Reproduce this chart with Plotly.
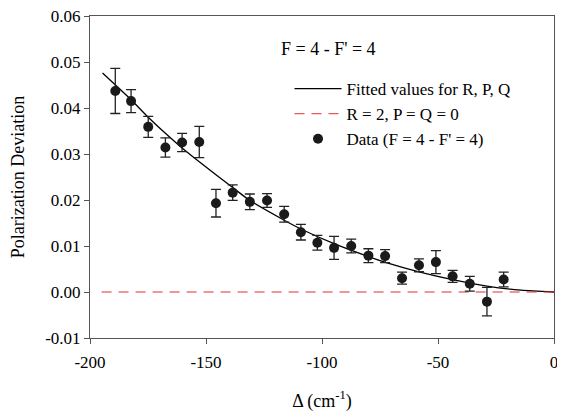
import plotly.graph_objects as go

# Data points (F = 4 - F' = 4)
delta = [-189.1, -182.3, -174.9, -167.5, -160.3, -152.9, -145.7, -138.5, -131.1, -123.7,
         -116.3, -109.1, -102.0, -94.8, -87.4, -80.0, -72.8, -65.5, -58.2, -50.9,
         -43.7, -36.3, -28.9, -21.7]
pol_dev = [0.0437, 0.0415, 0.0359, 0.0314, 0.0325, 0.0326, 0.0193, 0.0216, 0.0196, 0.0199,
           0.0169, 0.0130, 0.0107, 0.0096, 0.0100, 0.0079, 0.0078, 0.0030, 0.0058, 0.0065,
           0.0034, 0.0018, -0.0021, 0.0027]
pol_err = [0.0049, 0.0025, 0.0023, 0.0021, 0.0020, 0.0034, 0.0030, 0.0017, 0.0017, 0.0015,
           0.0017, 0.0017, 0.0016, 0.0025, 0.0015, 0.0015, 0.0014, 0.0013, 0.0014, 0.0025,
           0.0013, 0.0016, 0.0031, 0.0016]

# Fitted curve (R, P, Q)
fit_x = [-194.6, -182.3, -174.9, -167.5, -160.3, -152.9, -138.5, -131.1, -116.3, -109.1,
         -94.8, -80.0, -72.3, -58.2, -43.7, -28.9, -14.2, 0.0]
fit_y = [0.0476, 0.0418, 0.0380, 0.0345, 0.0313, 0.0283, 0.0227, 0.0199, 0.0156, 0.0137,
         0.0105, 0.0077, 0.0064, 0.0044, 0.0027, 0.0013, 0.0004, 0.0]

# Reference line R = 2, P = Q = 0
ref_x = [-195.0, 0.0]
ref_y = [0.0, 0.0]

x_ticks = [-200, -150, -100, -50, 0]
x_tick_text = ["-200", "-150", "-100", "-50", "0"]
y_ticks = [-0.01, 0.0, 0.01, 0.02, 0.03, 0.04, 0.05, 0.06]
y_tick_text = ["-0.01", "0.00", "0.01", "0.02", "0.03", "0.04", "0.05", "0.06"]

FONT = "Liberation Serif"

fig = go.Figure()
fig.add_trace(go.Scatter(x=fit_x, y=fit_y, mode="lines", name="Fitted values for R, P, Q",
                         line=dict(color="black", width=1.3, shape="spline", smoothing=0.6)))
fig.add_trace(go.Scatter(x=ref_x, y=ref_y, mode="lines", name="R = 2, P = Q = 0",
                         line=dict(color="#e03030", width=1, dash="10px,7px")))
fig.add_trace(go.Scatter(x=delta, y=pol_dev, mode="markers", name="Data (F = 4 - F' = 4)",
                         marker=dict(color="#1a1a1a", size=10),
                         error_y=dict(type="data", array=pol_err, visible=True,
                                      color="#222222", thickness=1.3, width=5)))

fig.add_annotation(x=0.408, y=0.898, xref="paper", yref="paper", xanchor="left", yanchor="middle",
                   text="F = 4 - F' = 4", showarrow=False, font=dict(family=FONT, size=18, color="black"))

fig.update_layout(
    width=549, height=404,
    margin=dict(l=82, r=3, t=8, b=74, autoexpand=False),
    paper_bgcolor="white", plot_bgcolor="white",
    font=dict(family=FONT, size=18, color="black"),
    showlegend=True,
    legend=dict(x=0.43, y=0.829, xanchor="left", yanchor="top", bgcolor="rgba(0,0,0,0)",
                font=dict(family=FONT, size=17), tracegroupgap=0, itemwidth=47),
)
fig.update_xaxes(range=[-200, 0], tickvals=x_ticks, ticktext=x_tick_text, automargin=False,
                 showline=True, linecolor="#555555", linewidth=1, mirror=True,
                 ticks="outside", ticklen=5, tickcolor="#555555", showgrid=False, zeroline=False,
                 tickfont=dict(family=FONT, size=17), ticklabelstandoff=4, ticklabeloverflow="allow",
                 title=dict(text="Δ (cm<sup>-1</sup>)", standoff=28, font=dict(family=FONT, size=18)))
fig.update_yaxes(range=[-0.01, 0.06], tickvals=y_ticks, ticktext=y_tick_text, automargin=False,
                 showline=True, linecolor="#555555", linewidth=1, mirror=True,
                 ticks="outside", ticklen=5, tickcolor="#555555", showgrid=False, zeroline=False,
                 tickfont=dict(family=FONT, size=17), ticklabeloverflow="allow",
                 title=dict(text="Polarization Deviation", standoff=21, font=dict(family=FONT, size=18)))

fig.write_html("out.html")
